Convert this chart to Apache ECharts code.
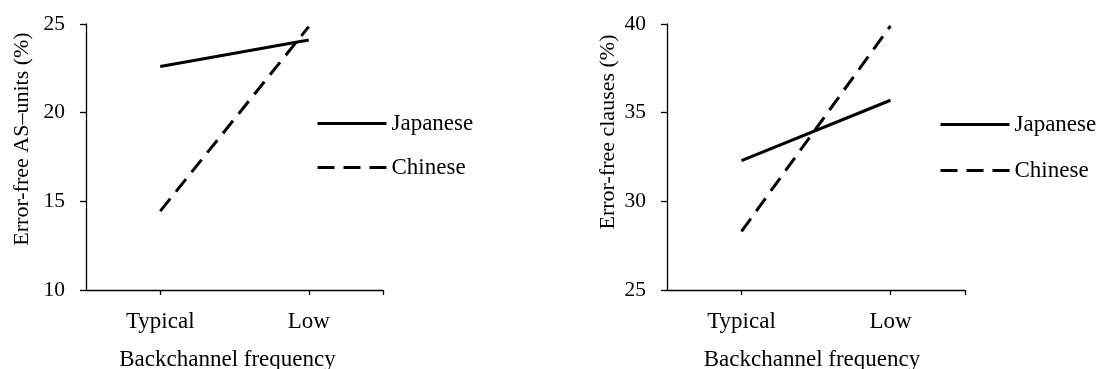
<!DOCTYPE html>
<html>
<head>
<meta charset="utf-8">
<script src="https://cdn.jsdelivr.net/npm/echarts@6/dist/echarts.min.js"></script>
<style>
  html, body { margin: 0; padding: 0; background: #fff; }
  #chart { width: 1102px; height: 369px; }
</style>
</head>
<body>
<div id="chart"></div>
<script>
// Backchannel frequency conditions
const categories = ['Typical', 'Low'];
const seriesNames = ['Japanese', 'Chinese'];

// Panel 1: error-free AS-units (%)
const asJapanese = [22.6, 24.1];
const asChinese = [14.45, 24.85];
const asTicks = [10, 15, 20, 25];

// Panel 2: error-free clauses (%)
const clJapanese = [32.3, 35.7];
const clChinese = [28.3, 39.9];
const clTicks = [25, 30, 35, 40];

const FONT = '"Liberation Serif", "Times New Roman", serif';
const FS_X = 23;     // horizontal labels, axis name, legend
const FS_YNAME = 22; // rotated y-axis title
const FS_YTICK = 21.5;
const INK = '#000';
const DASH = [16, 9];

// categories sit at the centre of equal-width bands on a 0..n value scale
const pos = i => i + 0.5;
const toPoints = vals => vals.map((v, i) => [pos(i), v]);

function xAxisFor(gridIndex, namePadRight) {
  const n = categories.length;
  return {
    gridIndex,
    type: 'value',
    min: 0,
    max: n,
    name: 'Backchannel frequency',
    nameLocation: 'middle',
    nameGap: 58,
    nameTextStyle: { fontFamily: FONT, fontSize: FS_X, color: INK, padding: [0, namePadRight, 0, 0] },
    axisLine: { show: true, lineStyle: { color: INK, width: 1.3 } },
    axisTick: {
      show: true, length: 5, inside: false,
      lineStyle: { color: INK, width: 1.3 },
      customValues: categories.map((c, i) => pos(i)).concat([n])
    },
    axisLabel: {
      fontFamily: FONT, fontSize: FS_X, color: INK, margin: 20,
      customValues: categories.map((c, i) => pos(i)),
      formatter: v => categories[Math.floor(v)]
    },
    splitLine: { show: false }
  };
}

function yAxisFor(gridIndex, ticks, title, nameGap, shiftUp) {
  return {
    gridIndex,
    type: 'value',
    min: ticks[0],
    max: ticks[ticks.length - 1],
    interval: ticks[1] - ticks[0],
    name: title,
    nameLocation: 'middle',
    nameGap,
    nameRotate: 90,
    nameTextStyle: { fontFamily: FONT, fontSize: FS_YNAME, color: INK, padding: [0, 0, 0, shiftUp * 2] },
    axisLine: { show: true, lineStyle: { color: INK, width: 1.3 } },
    axisTick: { show: true, length: 6, lineStyle: { color: INK, width: 1.3 } },
    axisLabel: { fontFamily: FONT, fontSize: FS_YTICK, color: INK, margin: 21 },
    splitLine: { show: false }
  };
}

function lineSeries(name, idx, vals, dashed) {
  return {
    name,
    type: 'line',
    xAxisIndex: idx,
    yAxisIndex: idx,
    data: toPoints(vals),
    symbol: 'none',
    animation: false,
    lineStyle: { color: INK, width: 3, type: dashed ? DASH : 'solid', cap: 'butt' },
    itemStyle: { color: INK }
  };
}

function legendFor(left, top, gap, names) {
  return {
    orient: 'vertical',
    left, top,
    padding: 0,
    itemWidth: 69,
    itemHeight: 20,
    itemGap: gap,
    data: [
      { name: names[0], lineStyle: { width: 3, type: 'solid', color: INK } },
      { name: names[1], lineStyle: { width: 3, type: [17, 9], color: INK } }
    ],
    // line-only key: the marker glyph is made invisible
    itemStyle: { color: 'rgba(0,0,0,0)', borderColor: 'rgba(0,0,0,0)', borderWidth: 0 },
    textStyle: { fontFamily: FONT, fontSize: FS_X, color: INK, padding: [0, 0, 0, 0] }
  };
}

const chart = echarts.init(document.getElementById('chart'), null, { renderer: 'canvas' });

chart.setOption({
  backgroundColor: '#fff',
  animation: false,
  grid: [
    { left: 86, top: 24, width: 297, height: 266, outerBoundsMode: 'none', containLabel: false },
    { left: 667, top: 24, width: 298, height: 266, outerBoundsMode: 'none', containLabel: false }
  ],
  xAxis: [xAxisFor(0, 14), xAxisFor(1, 8)],
  yAxis: [
    yAxisFor(0, asTicks, 'Error-free AS\u2013units (%)', 53, 18),
    yAxisFor(1, clTicks, 'Error-free clauses (%)', 48, 25)
  ],
  legend: [
    legendFor(316, 112, 21, [seriesNames[0], seriesNames[1]]),
    legendFor(939, 113, 23, [seriesNames[0] + ' ', seriesNames[1] + ' '])
  ],
  series: [
    lineSeries(seriesNames[0], 0, asJapanese, false),
    lineSeries(seriesNames[1], 0, asChinese, true),
    lineSeries(seriesNames[0] + ' ', 1, clJapanese, false),
    lineSeries(seriesNames[1] + ' ', 1, clChinese, true)
  ]
});
</script>
</body>
</html>
